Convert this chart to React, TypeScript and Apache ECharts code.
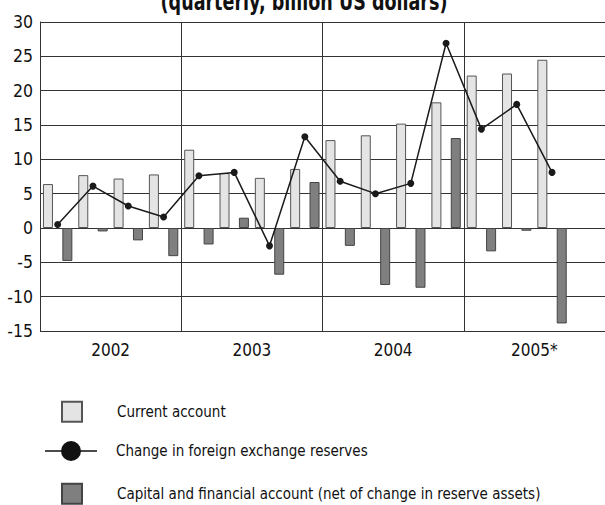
import React, { useEffect, useRef } from "react";
import * as echarts from "echarts";

const quarters = [
  "2002Q1", "2002Q2", "2002Q3", "2002Q4",
  "2003Q1", "2003Q2", "2003Q3", "2003Q4",
  "2004Q1", "2004Q2", "2004Q3", "2004Q4",
  "2005Q1", "2005Q2", "2005Q3", "2005Q4",
];
const years = ["2002", "2003", "2004", "2005*"];
const currentAccount = [6.4, 7.7, 7.2, 7.8, 11.4, 8.0, 7.3, 8.6, 12.8, 13.5, 15.2, 18.3, 22.2, 22.5, 24.5, null];
const capitalAccount = [-4.8, -0.5, -1.8, -4.1, -2.4, 1.5, -6.8, 6.7, -2.6, -8.3, -8.7, 13.1, -3.4, -0.4, -13.9, null];
const reserves = [0.5, 6.1, 3.2, 1.6, 7.6, 8.1, -2.6, 13.3, 6.8, 5.0, 6.5, 26.9, 14.4, 18.0, 8.1, null];

const titleText = "(quarterly, billion US dollars)";
const nameCA = "Current account";
const nameRes = "Change in foreign exchange reserves";
const nameCap = "Capital and financial account (net of change in reserve assets)";

const FONT = "'DejaVu Sans Condensed', 'Liberation Sans Narrow', sans-serif";

export default function App() {
  const ref = useRef<HTMLDivElement>(null);
  useEffect(() => {
    if (!ref.current) return;
    const chart = echarts.init(ref.current, null, { renderer: "svg" });
    const legendText = { fontFamily: FONT, fontSize: 15, color: "#111" };
    chart.setOption({
      animation: false,
      backgroundColor: "#fff",
      graphic: [
        {
          type: "text",
          x: 304,
          y: 1,
          scaleX: 0.78,
          style: {
            text: titleText,
            fontFamily: FONT,
            fontWeight: "bold",
            fontSize: 25,
            fill: "#111",
            align: "center",
            verticalAlign: "middle",
          },
        },
      ],
      grid: { left: 40, right: -3, top: 22, height: 309, containLabel: false },
      legend: [
        {
          data: [{ name: nameCA, icon: "rect" }],
          left: 61,
          top: 400.7,
          padding: 0,
          itemWidth: 20,
          itemHeight: 20,
          selectedMode: false,
          textStyle: { ...legendText, padding: [0, 0, 0, 30] },
        },
        {
          data: [
            {
              name: nameRes,
              icon: "path://M0,9.2L52,9.2L52,10.8L0,10.8Z M16,10A10,10,0,1,1,36,10A10,10,0,1,1,16,10Z",
              itemStyle: { color: "#111", borderWidth: 0 },
            },
          ],
          left: 45,
          top: 441,
          padding: 0,
          itemWidth: 52,
          itemHeight: 20,
          selectedMode: false,
          textStyle: { ...legendText, padding: [0, 0, 0, 14] },
        },
        {
          data: [{ name: nameCap, icon: "rect" }],
          left: 61,
          top: 482.7,
          padding: 0,
          itemWidth: 20,
          itemHeight: 20,
          selectedMode: false,
          textStyle: { ...legendText, padding: [0, 0, 0, 30] },
        },
      ],
      xAxis: [
        {
          type: "category",
          data: quarters,
          position: "bottom",
          axisLine: { show: false },
          axisTick: { show: false },
          axisLabel: { show: false },
          splitLine: { show: false },
        },
        {
          type: "category",
          data: years,
          position: "bottom",
          axisLine: { show: false },
          axisTick: { show: false },
          axisLabel: { fontFamily: FONT, fontSize: 17, color: "#111", margin: 10 },
          splitLine: { show: true, lineStyle: { color: "#333", width: 1 } },
        },
      ],
      yAxis: {
        type: "value",
        min: -15,
        max: 30,
        interval: 5,
        axisLine: { show: true, lineStyle: { color: "#333" } },
        axisTick: { show: false },
        axisLabel: { fontFamily: FONT, fontSize: 17.5, color: "#111", margin: 7 },
        splitLine: { show: true, lineStyle: { color: "#333", width: 1 } },
      },
      series: [
        {
          name: nameCA,
          type: "bar",
          xAxisIndex: 0,
          data: currentAccount,
          barWidth: 10,
          barGap: "94%",
          itemStyle: { color: "#e4e4e4", borderColor: "#555", borderWidth: 1 },
        },
        {
          name: nameCap,
          type: "bar",
          xAxisIndex: 0,
          data: capitalAccount,
          barWidth: 10,
          barGap: "94%",
          itemStyle: { color: "#7f7f7f", borderColor: "#444", borderWidth: 1 },
        },
        {
          name: nameRes,
          type: "line",
          xAxisIndex: 0,
          data: reserves,
          symbol: "circle",
          symbolSize: 7,
          lineStyle: { color: "#1a1a1a", width: 1.5 },
          itemStyle: { color: "#1a1a1a" },
          z: 5,
        },
      ],
    });
    return () => chart.dispose();
  }, []);
  return (
    <div
      ref={ref}
      style={{ position: "absolute", left: 0, top: 0, width: 605, height: 505, background: "#fff" }}
    />
  );
}
